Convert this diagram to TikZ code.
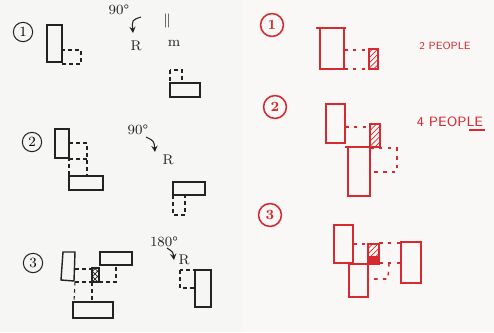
\documentclass[tikz,border=0pt]{standalone}
\usetikzlibrary{patterns}
\definecolor{ink}{RGB}{35,35,35}
\definecolor{pen}{RGB}{214,42,48}
\definecolor{paperL}{RGB}{246,246,245}
\definecolor{paperR}{RGB}{249,248,247}
\tikzset{
  blk/.style={draw=ink,line width=0.6pt},
  blkd/.style={draw=ink,line width=0.6pt,dash pattern=on 2pt off 2pt},
  red/.style={draw=pen,line width=0.9pt},
  redd/.style={draw=pen,line width=0.9pt,dash pattern=on 2pt off 3pt},
  hatch/.style={draw=pen,line width=0.9pt,pattern=north east lines,pattern color=pen},
  numc/.style={circle,draw=ink,line width=0.6pt,inner sep=0.6pt,minimum size=11pt,font=\footnotesize},
  numr/.style={circle,draw=pen,line width=0.9pt,inner sep=0.6pt,minimum size=13pt,font=\footnotesize\bfseries,text=pen},
  lbl/.style={font=\footnotesize,text=ink,inner sep=0pt},
  rlbl/.style={font=\scriptsize\sffamily,text=pen,inner sep=0pt},
  arr/.style={draw=ink,line width=0.6pt,-stealth}
}
\begin{document}
\begin{tikzpicture}[x=0.02cm,y=-0.02cm]
\useasboundingbox (0,0) rectangle (494,332);
\fill[paperL] (0,0) rectangle (242,332);
\fill[paperR] (242,0) rectangle (494,332);

% ---------------- left page ----------------
% 1
\node[numc] (n1) at (23,32) {1};
\draw[blk] (47,25) rectangle (62,62);
\draw[blkd] (62,50) rectangle (81,64);
\node[lbl] (a1) at (119,10) {90\textdegree};
\coordinate (a1s) at (141,17);
\coordinate (a1e) at (133,33);
\draw[arr] (a1s) .. controls (132,20) .. (a1e);
\node[lbl] (r1) at (136,46) {R};
\node[lbl] (m0) at (167,21) {$\|$};
\node[lbl] (m1) at (174,43) {m};
\draw[blkd] (170,70) rectangle (182,83);
\draw[blk] (170,83) rectangle (200,97);

% 2
\node[numc] (n2) at (32,142) {2};
\draw[blk] (55,129) rectangle (69,158);
\draw[blkd] (69,143) rectangle (87,176);
\draw[blkd] (69,159) -- (87,159);
\draw[blk] (69,176) rectangle (103,190);
\node[lbl] (a2) at (138,130) {90\textdegree};
\coordinate (a2s) at (146,137);
\coordinate (a2e) at (155,152);
\draw[arr] (a2s) .. controls (154,141) .. (a2e);
\node[lbl] (r2) at (168,160) {R};
\draw[blk] (173,182) rectangle (205,195);
\draw[blkd] (173,195) rectangle (185,215);

% 3
\node[numc] (n3) at (33,263) {3};
\draw[blk,line width=0.8pt] (63,252) -- (75,252) -- (74,281) -- (61,280) -- cycle;
\draw[blk] (100,252) rectangle (132,265);
\draw[blkd] (75,269) -- (92,269);
\draw[blkd] (99,282) -- (116,282) -- (116,265);
\draw[blkd] (75,282) -- (92,282);
\draw[blkd] (75,282) -- (74,302);
\draw[blkd] (92,282) -- (92,300);
\draw[ink,line width=0.6pt,pattern=crosshatch,pattern color=ink] (92,268) rectangle (99,282);
\draw[blk] (73,302) rectangle (113,318);
\node[lbl] (a3) at (164,242) {180\textdegree};
\coordinate (a3s) at (167,248);
\coordinate (a3e) at (174,260);
\draw[arr] (a3s) .. controls (173,252) .. (a3e);
\node[lbl] (r3) at (184,260) {R};
\draw[blk] (195,270) rectangle (211,307);
\draw[blkd] (180,270) rectangle (195,288);

% ---------------- right page ----------------
% 1
\node[numr] (m1r) at (272,25) {1};
\draw[red] (316,28) -- (346,28);
\draw[red] (320,28) -- (320,69) -- (344,69) -- (344,28);
\draw[redd] (344,50) -- (369,50);
\draw[redd] (344,69) -- (369,69);
\draw[hatch] (369,49) rectangle (378,69);
\node[rlbl,scale=0.85] (p2) at (445,46) {2 PEOPLE};

% 2
\node[numr] (m2r) at (275,107) {2};
\draw[red] (326,104) rectangle (345,143);
\draw[redd] (345,127) -- (370,127);
\draw[hatch] (370,124) rectangle (380,147);
\draw[red] (345,147) -- (380,147);
\draw[red] (348,147) rectangle (370,196);
\draw[redd] (370,148) -- (397,148) -- (397,172) -- (370,172);
\node[rlbl,scale=1.1] (p4) at (450,122) {4 PEOPLE};
\draw[pen,line width=0.9pt] (469,130) -- (485,130);

% 3
\node[numr] (m3r) at (270,215) {3};
\draw[red] (334,225) rectangle (353,263);
\draw[redd] (353,244) -- (368,244);
\draw[draw=pen,line width=0.9pt,pattern=north east lines,pattern color=pen] (368,244) rectangle (379,264);
\fill[pen] (368,256) rectangle (379,264);
\draw[redd] (379,243) -- (401,243);
\draw[red] (401,242) rectangle (421,283);
\draw[red] (349,264) rectangle (368,297);
\draw[redd] (379,263) -- (401,263);
\draw[redd] (389,263) -- (388,279) -- (372,279);
\end{tikzpicture}
\end{document}
